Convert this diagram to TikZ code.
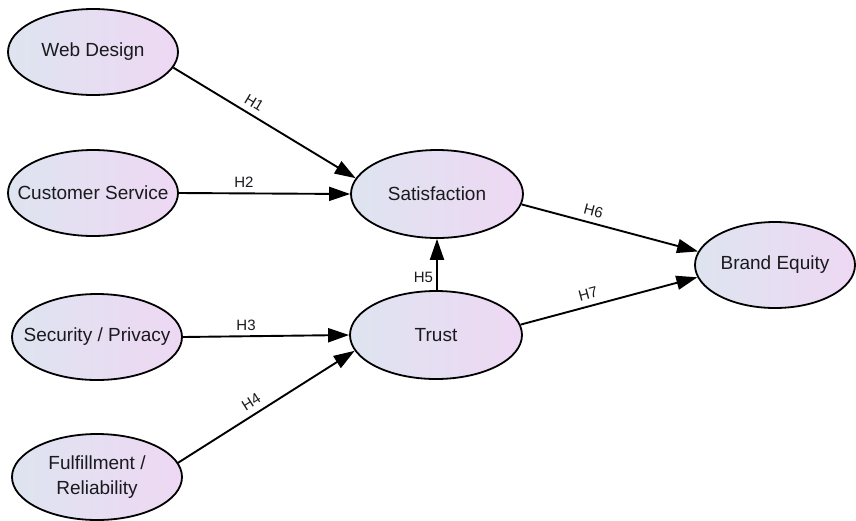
\documentclass[tikz,border=0pt]{standalone}
\usepackage{fontspec}
\setmainfont{Liberation Sans}
\usetikzlibrary{arrows.meta,shapes.geometric}
\definecolor{lc}{RGB}{222,228,240}
\definecolor{rc}{RGB}{238,216,243}
\definecolor{txt}{RGB}{25,25,30}
\newcommand{\zw}[1]{\makebox[0pt]{#1}}
\begin{document}
\begin{tikzpicture}[x=1pt,y=-1pt,
  construct/.style={ellipse,draw=black,line width=1.8pt,left color=lc,right color=rc,
    minimum width=170pt,minimum height=86pt,inner sep=0pt,align=center,
    font=\fontsize{19}{24.5}\selectfont,text=txt},
  path/.style={line width=1.9pt,-{Triangle[length=21pt,width=14pt]}},
  hlab/.style={font=\fontsize{15}{17}\selectfont,text=txt,inner sep=4.5pt},
  slab/.style={hlab,sloped,above,inner sep=6pt}]
\useasboundingbox (0,0) rectangle (856,520);
\node[construct] (web) at (93,52) {\zw{Web Design}};
\node[construct] (cs) at (93,193) {\zw{Customer Service}};
\node[construct] (sp) at (97,337) {\zw{Security / Privacy}};
\node[construct] (fr) at (97,477) {\zw{Fulfillment /}\\\zw{Reliability}};
\node[construct,minimum width=172pt,minimum height=88pt] (sat) at (437,194) {\zw{Satisfaction}};
\node[construct,minimum width=172pt,minimum height=88pt] (tr) at (436,335) {\zw{Trust}};
\node[construct,minimum width=160pt,minimum height=86pt] (be) at (775,265) {\zw{Brand Equity}};
\draw[path] (web.-11) -- node[slab,pos=0.41] {H1} (sat.169);
\draw[path] (cs.east) -- node[hlab,above,pos=0.38] {H2} (sat.west);
\draw[path] (sp.east) -- node[hlab,above,pos=0.38] {H3} (tr.west);
\draw[path] (fr.10) -- node[slab,pos=0.45] {H4} (tr.-169);
\draw[path] (tr.north -| sat.south) -- node[hlab,left,pos=0.25,inner sep=3pt] {H5} (sat.south);
\draw[path] (sat.-7) -- node[slab,pos=0.39] {H6} (be.170);
\draw[path] (tr.7) -- node[slab,pos=0.4] {H7} (be.-171);
\end{tikzpicture}
\end{document}
